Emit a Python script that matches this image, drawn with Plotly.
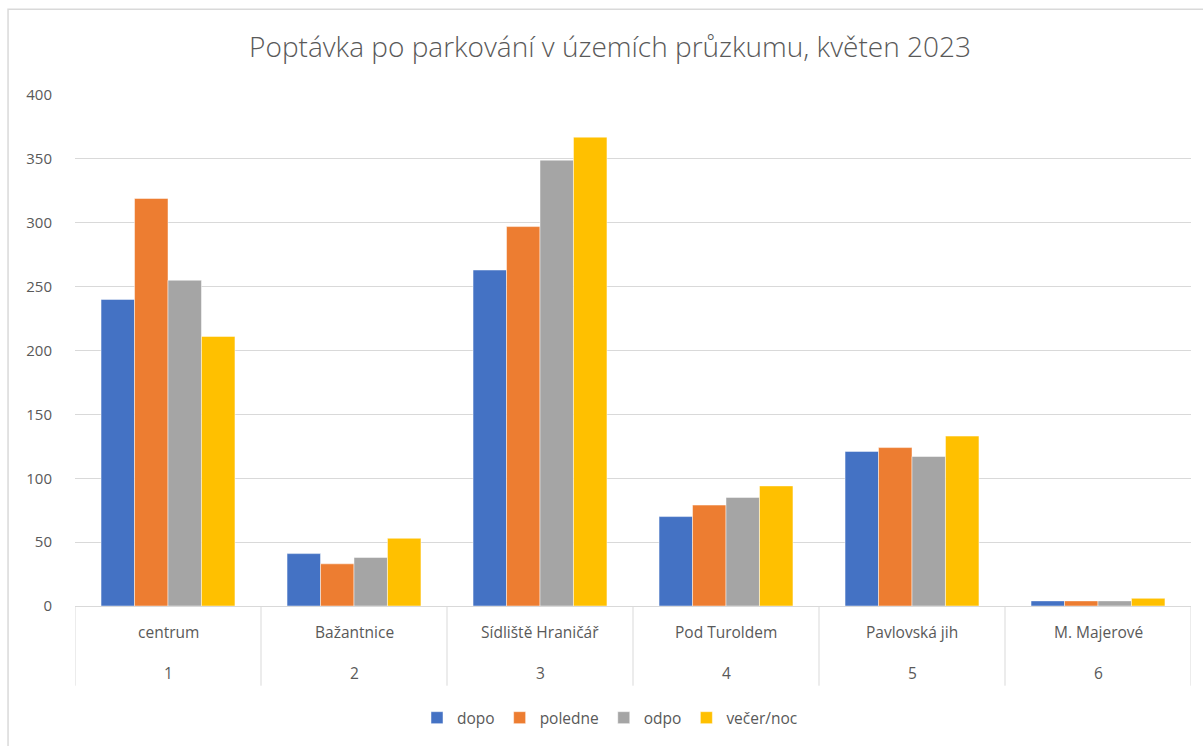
import plotly.graph_objects as go

names = ["centrum", "Bažantnice", "Sídliště Hraničář", "Pod Turoldem", "Pavlovská jih", "M. Majerové"]
numbers = ["1", "2", "3", "4", "5", "6"]
series = ["dopo", "poledne", "odpo", "večer/noc"]
dopo = [240, 41, 263, 70, 121, 4]
poledne = [319, 33, 297, 79, 124, 4]
odpo = [255, 38, 349, 85, 117, 4]
vecer = [211, 53, 367, 94, 133, 6]
colors = ["#4472C4", "#ED7D31", "#A5A5A5", "#FFC000"]

values = [dopo, poledne, odpo, vecer]
fig = go.Figure()
for name, vals, col in zip(series, values, colors):
    fig.add_trace(go.Bar(
        x=names, y=vals, name=name,
        marker=dict(color=col, line=dict(color="rgba(255,255,255,0.6)", width=0.8)),
    ))

font_fam = "Open Sans, Noto Sans, sans-serif"
grey = "#595959"
line_grey = "#D9D9D9"

annotations = []
shapes = []
for i, (nm, num) in enumerate(zip(names, numbers)):
    annotations.append(dict(x=nm, y=-0.05, xref="x", yref="paper", text=nm, showarrow=False,
                            yanchor="middle", font=dict(size=15.5, color=grey)))
    annotations.append(dict(x=nm, y=-0.132, xref="x", yref="paper", text=num, showarrow=False,
                            yanchor="middle", font=dict(size=15.5, color=grey)))
for b in range(len(names) + 1):
    shapes.append(dict(type="line", xref="x", yref="paper", x0=b - 0.5, x1=b - 0.5,
                       y0=0, y1=-0.156, line=dict(color=line_grey, width=1)))
shapes.append(dict(type="rect", xref="paper", yref="paper",
                   x0=-0.060, x1=1.05, y0=-0.35, y1=1.168,
                   line=dict(color=line_grey, width=1.5), fillcolor="rgba(0,0,0,0)", layer="below"))

fig.update_layout(
    width=1203, height=746,
    margin=dict(l=75, r=12, t=95, b=139),
    paper_bgcolor="white", plot_bgcolor="white",
    barmode="group", bargap=0.28, bargroupgap=0,
    title=dict(text="Poptávka po parkování v územích průzkumu, květen 2023",
               x=(610) / 1203, xanchor="center", y=1 - 47 / 746, yanchor="middle",
               font=dict(family=font_fam, size=28, color=grey, weight=300)),
    font=dict(family=font_fam, size=15, color=grey),
    yaxis=dict(range=[0, 400], dtick=50, showgrid=True, gridcolor=line_grey, gridwidth=1,
               zeroline=False, showline=False, ticks="outside", ticklen=19, tickcolor="rgba(0,0,0,0)",
               tickfont=dict(size=15, color=grey)),
    xaxis=dict(type="category", showline=True, linecolor=line_grey, linewidth=1,
               showticklabels=False, ticks="", range=[-0.5, len(names) - 0.5]),
    legend=dict(orientation="h", x=(610 - 75) / 1116, xanchor="center", y=-0.217, yanchor="middle",
                font=dict(size=15.5, color=grey), traceorder="normal"),
    annotations=annotations,
    shapes=shapes,
)
fig.write_html("out.html", config={"displayModeBar": False},
               post_script="document.body.style.margin='0';")
